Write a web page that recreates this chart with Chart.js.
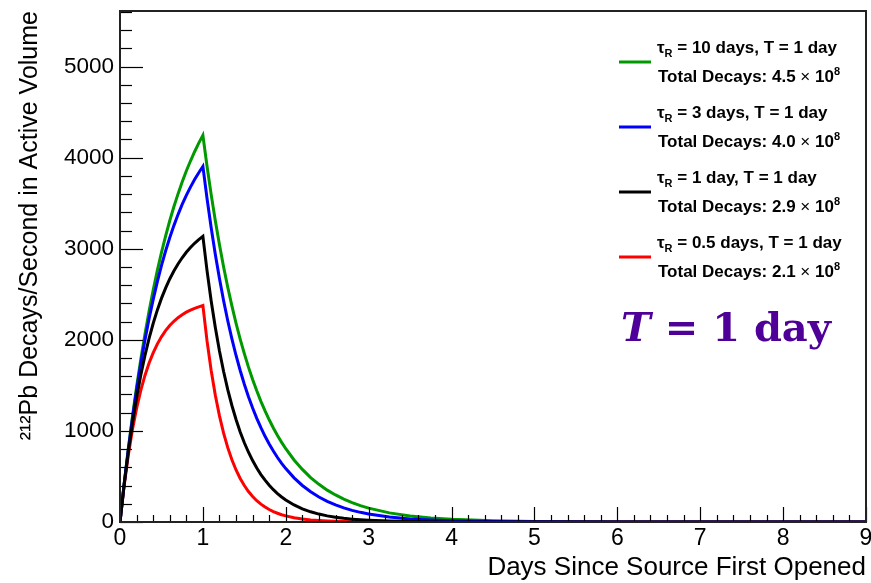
<!DOCTYPE html>
<html>
<head>
<meta charset="utf-8">
<script src="https://cdn.jsdelivr.net/npm/chart.js@4.4.1/dist/chart.umd.min.js"></script>
<style>
  html, body { margin: 0; padding: 0; background: #fff; }
  #wrap { width: 871px; height: 583px; }
</style>
</head>
<body>
<div id="wrap"><canvas id="myChartPb" width="871" height="583"></canvas></div>
<script>
// days since the source was first opened
var days = [0, 0.05, 0.1, 0.15, 0.2, 0.25, 0.3, 0.35, 0.4, 0.45, 0.5, 0.55, 0.6, 0.65, 0.7, 0.75, 0.8, 0.85, 0.9, 0.95, 1,
    1.05, 1.1, 1.15, 1.2, 1.25, 1.3, 1.35, 1.4, 1.45, 1.5, 1.55, 1.6, 1.65, 1.7, 1.75, 1.8, 1.85, 1.9, 1.95, 2,
    2.1, 2.2, 2.3, 2.4, 2.5, 2.6, 2.7, 2.8, 2.9, 3,
    3.25, 3.5, 3.75, 4, 4.5, 5, 6, 7, 8, 9];

// 212Pb decays / second
var tau10 = [0, 418, 803, 1156, 1482, 1782, 2057, 2311, 2545, 2760, 2957, 3139, 3307, 3461, 3602, 3733, 3853, 3963, 4065, 4159, 4245,
    3906, 3594, 3307, 3043, 2800, 2577, 2372, 2182, 2008, 1848, 1700, 1565, 1440, 1325, 1219, 1122, 1032, 950, 874, 804,
    681, 577, 488, 414, 350, 297, 251, 213, 180, 152,
    100, 66, 44, 29, 13, 5, 1, 0, 0, 0];
var tau3 = [0, 416, 794, 1137, 1450, 1734, 1993, 2228, 2442, 2637, 2814, 2975, 3121, 3254, 3375, 3486, 3586, 3677, 3760, 3835, 3904,
    3551, 3230, 2937, 2672, 2430, 2210, 2010, 1828, 1663, 1512, 1375, 1251, 1138, 1035, 941, 856, 779, 708, 644, 586,
    485, 401, 332, 274, 227, 188, 155, 128, 106, 88,
    55, 34, 21, 13, 5, 2, 0, 0, 0, 0];
var tau1 = [0, 409, 768, 1085, 1363, 1608, 1823, 2013, 2179, 2326, 2455, 2568, 2668, 2756, 2833, 2901, 2961, 3013, 3060, 3100, 3136,
    2759, 2427, 2135, 1878, 1652, 1453, 1279, 1125, 989, 870, 766, 674, 593, 521, 459, 403, 355, 312, 275, 242,
    187, 145, 112, 87, 67, 52, 40, 31, 24, 19,
    10, 5, 3, 1, 0, 0, 0, 0, 0, 0];
var tau05 = [0, 399, 733, 1012, 1246, 1442, 1606, 1743, 1857, 1953, 2033, 2101, 2157, 2204, 2243, 2276, 2304, 2327, 2346, 2362, 2376,
    1988, 1664, 1392, 1165, 975, 816, 683, 571, 478, 400, 335, 280, 234, 196, 164, 137, 115, 96, 80, 67,
    47, 33, 23, 16, 11, 8, 6, 4, 3, 2,
    1, 0, 0, 0, 0, 0, 0, 0, 0, 0];

var xTickValues = [0, 1, 2, 3, 4, 5, 6, 7, 8, 9];
var yTickValues = [0, 1000, 2000, 3000, 4000, 5000];

var legendTau = ['10 days', '3 days', '1 day', '0.5 days'];
var legendTotal = ['4.5', '4.0', '2.9', '2.1'];
var legendColor = ['#009900', '#0000ff', '#000000', '#ff0000'];

function pts(arr) {
    return days.map(function (d, i) { return {x: d, y: arr[i]}; });
}

// ROOT-like frame, inner ticks, legend and the big label
var rootDecor = {
    id: 'rootDecor',
    afterDraw: function (chart) {
        var ctx = chart.ctx;
        var a = chart.chartArea;
        var xs = chart.scales.x, ys = chart.scales.y;
        ctx.save();
        ctx.strokeStyle = '#000';
        ctx.lineWidth = 1.2;
        for (var v = 0; v <= 5600; v += 200) {
            var py = Math.round(ys.getPixelForValue(v)) + 0.5;
            var len = (v % 1000 === 0) ? 23 : 12;
            ctx.beginPath(); ctx.moveTo(a.left, py); ctx.lineTo(a.left + len, py); ctx.stroke();
        }
        for (var i = 0; i <= 45; i++) {
            var px = Math.round(xs.getPixelForValue(i * 0.2)) + 0.5;
            var l2 = (i % 5 === 0) ? 15 : 7;
            ctx.beginPath(); ctx.moveTo(px, a.bottom); ctx.lineTo(px, a.bottom - l2); ctx.stroke();
        }
        ctx.lineWidth = 2;
        ctx.strokeStyle = '#222';
        ctx.strokeRect(a.left, a.top, a.right - a.left, a.bottom - a.top);

        // legend
        ctx.textBaseline = 'alphabetic';
        ctx.textAlign = 'left';
        for (var k = 0; k < 4; k++) {
            var dy = 65 * k;
            ctx.strokeStyle = legendColor[k];
            ctx.lineWidth = 3;
            ctx.beginPath(); ctx.moveTo(619, 62 + dy); ctx.lineTo(651, 62 + dy); ctx.stroke();
            ctx.fillStyle = '#000';
            var x = 657;
            ctx.font = 'bold 17px "Liberation Sans"';
            ctx.fillText('\u03c4', x, 53 + dy);
            x += ctx.measureText('\u03c4').width;
            ctx.font = 'bold 11px "Liberation Sans"';
            ctx.fillText('R', x, 57 + dy);
            x += ctx.measureText('R').width;
            ctx.font = 'bold 17px "Liberation Sans"';
            ctx.fillText(' = ' + legendTau[k] + ', T = 1 day', x, 53 + dy);

            x = 658;
            var t2 = 'Total Decays: ' + legendTotal[k] + ' ';
            ctx.fillText(t2, x, 82 + dy);
            x += ctx.measureText(t2).width;
            ctx.font = '17px "Liberation Sans"';
            ctx.fillText('\u00d7', x, 82 + dy);
            x += ctx.measureText('\u00d7').width;
            ctx.font = 'bold 17px "Liberation Sans"';
            ctx.fillText(' 10', x, 82 + dy);
            x += ctx.measureText(' 10').width;
            ctx.font = 'bold 11px "Liberation Sans"';
            ctx.fillText('8', x, 75 + dy);
        }

        // big label
        ctx.fillStyle = '#4e0098';
        ctx.font = 'italic bold 40px "DejaVu Serif"';
        ctx.fillText('T', 621, 341);
        var tw = ctx.measureText('T').width;
        ctx.font = 'bold 40px "DejaVu Serif"';
        ctx.fillText(' = 1 day', 621 + tw, 341);
        ctx.restore();
    }
};

var ctx = document.getElementById('myChartPb').getContext('2d');
var myChartPb = new Chart(ctx, {
    type: 'line',
    data: {
        datasets: [
            {label: 'tau 1', data: pts(tau1), borderColor: '#000000'},
            {label: 'tau 3', data: pts(tau3), borderColor: '#0000ff'},
            {label: 'tau 0.5', data: pts(tau05), borderColor: '#ff0000'},
            {label: 'tau 10', data: pts(tau10), borderColor: '#009900'}
        ]
    },
    options: {
        responsive: false,
        animation: false,
        layout: { padding: { top: 11, right: 5, left: 0, bottom: 0 } },
        elements: {
            point: { radius: 0 },
            line: { borderWidth: 3, tension: 0, fill: false }
        },
        plugins: {
            legend: { display: false },
            tooltip: { enabled: false }
        },
        scales: {
            x: {
                type: 'linear',
                min: 0,
                max: 9,
                grid: { display: false, drawTicks: false },
                border: { display: false },
                afterBuildTicks: function (s) {
                    s.ticks = xTickValues.map(function (v) { return {value: v}; });
                },
                ticks: {
                    color: '#000',
                    padding: 3,
                    maxRotation: 0,
                    autoSkip: false,
                    callback: function (v) { return String(v); },
                    font: { family: 'Liberation Sans', size: 23 }
                },
                title: {
                    display: true,
                    text: 'Days Since Source First Opened',
                    align: 'end',
                    color: '#000',
                    padding: { top: 0, bottom: 0 },
                    font: { family: 'Liberation Sans', size: 26 }
                },
                afterFit: function (s) { s.height = 61; s.paddingLeft = 0; s.paddingRight = 0; }
            },
            y: {
                min: 0,
                max: 5610,
                grid: { display: false, drawTicks: false },
                border: { display: false },
                afterBuildTicks: function (s) {
                    s.ticks = yTickValues.map(function (v) { return {value: v}; });
                },
                ticks: {
                    color: '#000',
                    padding: 6,
                    autoSkip: false,
                    callback: function (v) { return String(v); },
                    font: { family: 'Liberation Sans', size: 22.5 }
                },
                title: {
                    display: true,
                    text: '\u00b2\u00b9\u00b2Pb Decays/Second in Active Volume',
                    align: 'end',
                    color: '#000',
                    padding: { top: 15, bottom: 0 },
                    font: { family: 'Liberation Sans', size: 25 }
                },
                afterFit: function (s) { s.width = 120; s.paddingTop = 0; s.paddingBottom = 0; }
            }
        }
    },
    plugins: [rootDecor]
});
</script>
</body>
</html>
